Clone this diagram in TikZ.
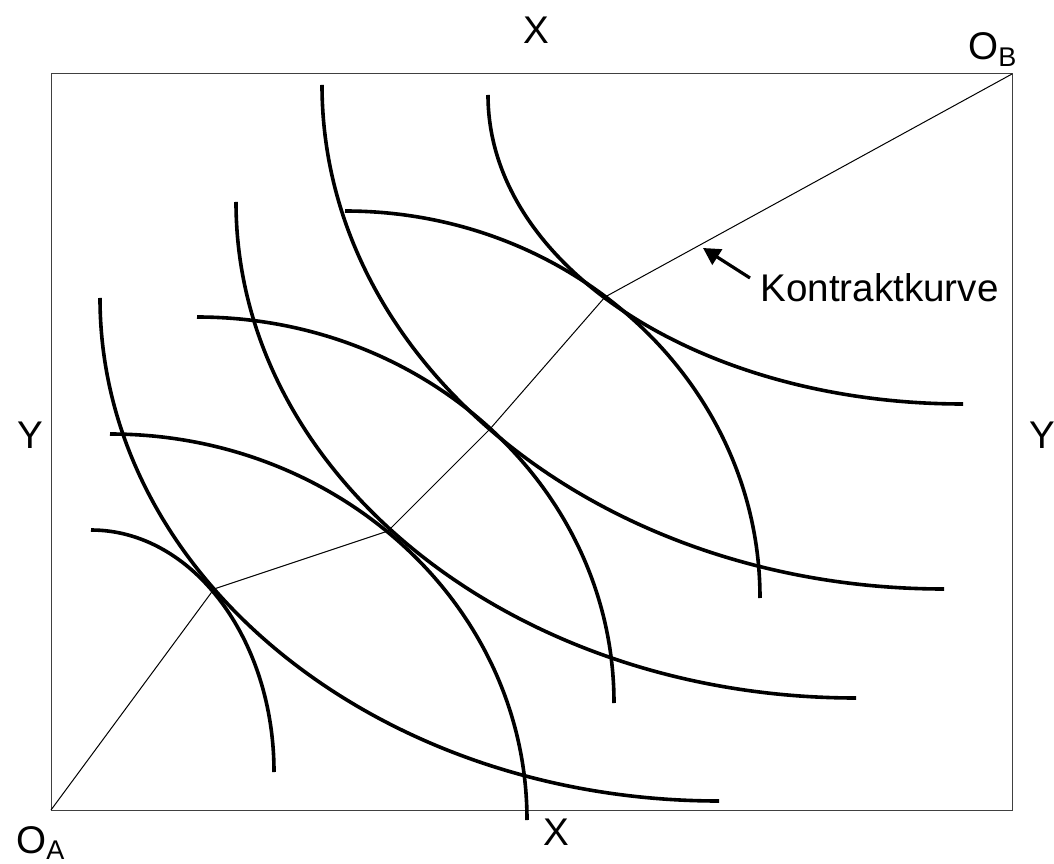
\documentclass[tikz,border=0pt]{standalone}
\usepackage{fontspec}
\setmainfont{Liberation Sans}
\usepackage{tikz}
\usetikzlibrary{arrows.meta}

\begin{document}
\begin{tikzpicture}[x=0.5pt, y=0.5pt,
  frame/.style={draw=black!75, line width=0.5pt},
  kk/.style={line width=0.5pt},
  ind/.style={line width=1.8pt},
  lbl/.style={inner sep=0pt, font=\fontsize{19.3}{23}\selectfont},
  pfeil/.style={line width=1.6pt, -{Triangle[length=8.5pt, width=9pt]}}]
\useasboundingbox (0,0) rectangle (1054,863);

%% Edgeworth box with origins
\coordinate (oa) at (51,53);
\coordinate (ob) at (1012,789);
\draw[frame] (oa) rectangle (ob);

%% tangency points on the contract curve
\coordinate (t1) at (214,274);
\coordinate (t2) at (388,332);
\coordinate (t3) at (490,434);
\coordinate (t4) at (605,566);
\draw[kk] (oa) -- (t1) -- (t2) -- (t3) -- (t4) -- (ob);

%% indifference curves of A
\coordinate (a1) at (100,565);
\coordinate (a2) at (236,661);
\coordinate (a3) at (322,778);
\coordinate (a4) at (488,768);
\draw[ind] (a1) arc[start angle=180, end angle=270, x radius=619, y radius=503];
\draw[ind] (a2) arc[start angle=180, end angle=270, x radius=620, y radius=496];
\draw[ind] (a3) arc[start angle=180, end angle=270, x radius=622, y radius=504];
\draw[ind] (a4) arc[start angle=180, end angle=270, x radius=475, y radius=309];

%% indifference curves of B
\coordinate (b1) at (91,333);
\coordinate (b2) at (110,429);
\coordinate (b3) at (197,546);
\coordinate (b4) at (345,652);
\draw[ind] (b1) arc[start angle=90, end angle=0, x radius=183, y radius=242];
\draw[ind] (b2) arc[start angle=90, end angle=0, x radius=417, y radius=386];
\draw[ind] (b3) arc[start angle=90, end angle=0, x radius=417, y radius=386];
\draw[ind] (b4) arc[start angle=90, end angle=0, x radius=415, y radius=387];

%% labels
\node[lbl] (xo) at (536,833) {X};
\node[lbl] (xu) at (556,31) {X};
\node[lbl] (yl) at (30,428) {Y};
\node[lbl] (yr) at (1042,428) {Y};
\node[lbl, anchor=base west] (la) at (16,10) {O\textsubscript{A}};
\node[lbl, anchor=base west] (lb) at (968,803) {O\textsubscript{B}};
\node[lbl, anchor=base west] (kurve) at (760,561) {Kontraktkurve};
\coordinate (pf) at (750,585);
\coordinate (pt) at (703,615);
\draw[pfeil] (pf) -- (pt);
\end{tikzpicture}
\end{document}
